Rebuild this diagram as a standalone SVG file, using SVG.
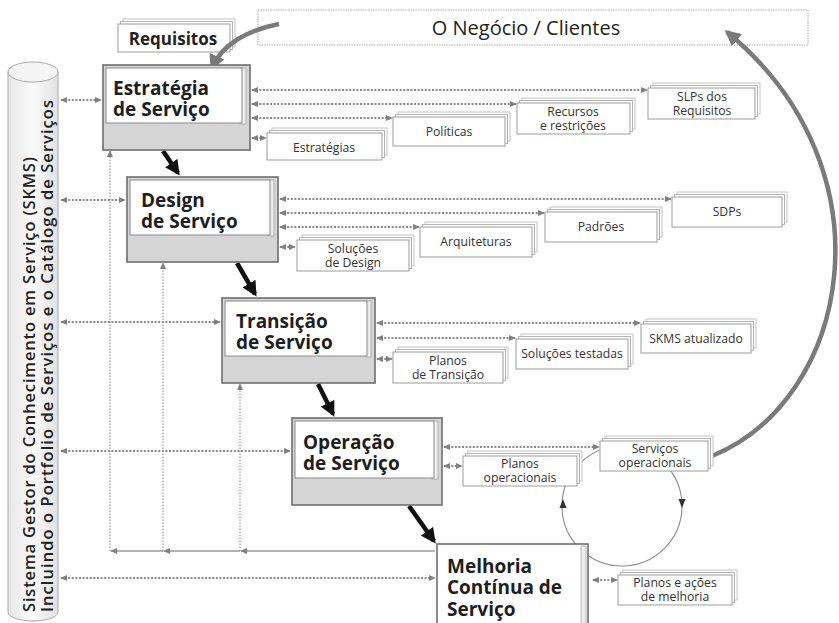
<svg xmlns="http://www.w3.org/2000/svg" width="839" height="623" viewBox="0 0 839 623">
<defs>
<style>
.dot{stroke:#8a8a8a;stroke-width:2;stroke-dasharray:2 1.6;fill:none}
.thin{stroke:#9a9a9a;stroke-width:1.2;stroke-dasharray:1.5 1.5;fill:none}
.hline{stroke:#999;stroke-width:1.6;fill:none}
.blk{stroke:#111;stroke-width:4.5;fill:none}
.gry{stroke:#7a7a7a;stroke-width:4.5;fill:none}
.b2{fill:#fff;stroke:#c4c4c4;stroke-width:1}
.b1{fill:#fff;stroke:#b4b4b4;stroke-width:1}
.f{fill:#fff;stroke:#9c9c9c;stroke-width:1}
.lbl{font-family:"Open Sans","Noto Sans",sans-serif;font-size:12.2px;fill:#333;text-anchor:middle}
.ttl{font-family:"Open Sans","Noto Sans",sans-serif;font-weight:700;font-size:19px;fill:#1e1e1e}
.outer{fill:#d5d5d5;stroke:#6e6e6e;stroke-width:1.6}
.inner{fill:#fff;stroke:#8c8c8c;stroke-width:1}
.strip{fill:#ececec;stroke:#a8a8a8;stroke-width:0.8}
.cyt{font-family:"Open Sans","Noto Sans",sans-serif;font-size:16.5px;font-weight:600;fill:#222}
</style>
<marker id="ah" viewBox="0 0 8 8" refX="7" refY="4" markerWidth="7" markerHeight="7" markerUnits="userSpaceOnUse" orient="auto-start-reverse"><path d="M0,0.5 L8,4 L0,7.5 z" fill="#808080"/></marker>
<marker id="bk" viewBox="0 0 10 10" refX="8" refY="5" markerWidth="15" markerHeight="15" markerUnits="userSpaceOnUse" orient="auto"><path d="M0,0 L10,5 L0,10 z" fill="#111"/></marker>
<marker id="gh" viewBox="0 0 10 10" refX="8" refY="5" markerWidth="16" markerHeight="16" markerUnits="userSpaceOnUse" orient="auto"><path d="M0,0 L10,5 L0,10 z" fill="#7a7a7a"/></marker>
<linearGradient id="cyl" x1="0" x2="1" y1="0" y2="0"><stop offset="0" stop-color="#e6e6e6"/><stop offset="0.5" stop-color="#fafafa"/><stop offset="1" stop-color="#e2e2e2"/></linearGradient>
</defs>
<rect width="839" height="623" fill="#fff"/>

<!-- cylinder -->
<g id="skms">
<path d="M8,72 L8,612 A25,9 0 0 0 58,612 L58,72 Z" fill="url(#cyl)" stroke="#aaa" stroke-width="1"/>
<ellipse cx="33" cy="72" rx="25" ry="10" fill="#f4f4f4" stroke="#aaa" stroke-width="1"/>
<text class="cyt" transform="translate(35,612) rotate(-90)" textLength="455" lengthAdjust="spacing">Sistema Gestor do Conhecimento em Serviço (SKMS)</text>
<text class="cyt" transform="translate(53,612) rotate(-90)" textLength="512" lengthAdjust="spacing">Incluindo o Portfolio de Serviços e o Catálogo de Serviços</text>
</g>

<!-- business -->
<g id="negocio">
<rect x="258" y="10" width="550" height="35" fill="#fff" stroke="#aaa" stroke-width="1" stroke-dasharray="1.5 1"/>
<text x="526" y="35" font-family="'Open Sans','Noto Sans',sans-serif" font-size="20" fill="#222" text-anchor="middle">O Negócio / Clientes</text>
</g>

<g id="requisitos">
<rect class="b2" x="123" y="19" width="112" height="28"/>
<rect class="b1" x="120.5" y="21.5" width="112" height="28"/>
<rect class="f" x="118" y="24" width="112" height="28"/>
<text x="173" y="45" font-family="'Open Sans','Noto Sans',sans-serif" font-size="17" font-weight="700" fill="#222" text-anchor="middle">Requisitos</text>
</g>

<!-- circle loop (behind boxes) -->
<g id="loop">
<circle cx="622" cy="506" r="60" fill="none" stroke="#8a8a8a" stroke-width="1.1"/>
<path d="M559.5,508 L563,499 L566.5,508 z" fill="#333"/>
<path d="M678.5,499 L682,508 L685.5,499 z" fill="#333"/>
</g>

<!-- connectors -->
<g id="connectors">
<path class="gry" d="M279,24 C248,30 222,44 212,68" marker-end="url(#gh)"/>
<path class="gry" d="M712,456 C850,400 895,170 727,32" marker-end="url(#gh)"/>
<line class="blk" x1="163" y1="151" x2="178" y2="173" marker-end="url(#bk)"/>
<line class="blk" x1="237" y1="263" x2="255" y2="294" marker-end="url(#bk)"/>
<line class="blk" x1="318" y1="384" x2="333" y2="414" marker-end="url(#bk)"/>
<line class="blk" x1="409" y1="506" x2="434" y2="541" marker-end="url(#bk)"/>
<!-- left to SKMS -->
<line class="dot" x1="61" y1="100" x2="101" y2="100" marker-start="url(#ah)" marker-end="url(#ah)"/>
<line class="dot" x1="61" y1="200" x2="125" y2="200" marker-start="url(#ah)" marker-end="url(#ah)"/>
<line class="dot" x1="61" y1="322" x2="220" y2="322" marker-start="url(#ah)" marker-end="url(#ah)"/>
<line class="dot" x1="61" y1="451" x2="290" y2="451" marker-start="url(#ah)" marker-end="url(#ah)"/>
<line class="dot" x1="61" y1="578" x2="435" y2="578" marker-start="url(#ah)" marker-end="url(#ah)"/>
<!-- feedback from CSI -->
<line class="hline" x1="435" y1="551" x2="241" y2="551" marker-end="url(#ah)"/>
<line class="hline" x1="240" y1="551" x2="164" y2="551" marker-end="url(#ah)"/>
<line class="hline" x1="163" y1="551" x2="111" y2="551" marker-end="url(#ah)"/>
<line class="thin" x1="110" y1="551" x2="110" y2="151" marker-end="url(#ah)"/>
<line class="thin" x1="163" y1="551" x2="163" y2="263" marker-end="url(#ah)"/>
<line class="thin" x1="240" y1="551" x2="240" y2="384" marker-end="url(#ah)"/>
<!-- strategy outputs -->
<line class="dot" x1="252" y1="90" x2="647" y2="90" marker-start="url(#ah)" marker-end="url(#ah)"/>
<line class="dot" x1="252" y1="104" x2="516" y2="104" marker-start="url(#ah)" marker-end="url(#ah)"/>
<line class="dot" x1="252" y1="118" x2="392" y2="118" marker-start="url(#ah)" marker-end="url(#ah)"/>
<line class="dot" x1="252" y1="138" x2="266" y2="138" marker-start="url(#ah)" marker-end="url(#ah)"/>
<!-- design outputs -->
<line class="dot" x1="280" y1="199" x2="671" y2="199" marker-start="url(#ah)" marker-end="url(#ah)"/>
<line class="dot" x1="280" y1="213" x2="544" y2="213" marker-start="url(#ah)" marker-end="url(#ah)"/>
<line class="dot" x1="280" y1="227" x2="419" y2="227" marker-start="url(#ah)" marker-end="url(#ah)"/>
<line class="dot" x1="280" y1="247" x2="295" y2="247" marker-start="url(#ah)" marker-end="url(#ah)"/>
<!-- transition outputs -->
<line class="dot" x1="377" y1="323" x2="640" y2="323" marker-start="url(#ah)" marker-end="url(#ah)"/>
<line class="dot" x1="377" y1="338" x2="515" y2="338" marker-start="url(#ah)" marker-end="url(#ah)"/>
<line class="dot" x1="377" y1="359" x2="392" y2="359" marker-start="url(#ah)" marker-end="url(#ah)"/>
<!-- operation outputs -->
<line class="dot" x1="444" y1="447" x2="599" y2="447" marker-start="url(#ah)" marker-end="url(#ah)"/>
<line class="dot" x1="444" y1="466" x2="462" y2="466" marker-start="url(#ah)" marker-end="url(#ah)"/>
<!-- CSI output -->
<line class="dot" x1="593" y1="580" x2="617" y2="580" marker-start="url(#ah)" marker-end="url(#ah)"/>
</g>

<!-- lifecycle stages -->
<g id="estrategia">
<rect class="outer" x="103" y="65" width="147" height="85"/>
<rect class="strip" x="240" y="68" width="6" height="56"/>
<rect class="inner" x="106" y="68" width="136" height="55"/>
<text class="ttl" x="113" y="95">Estratégia</text>
<text class="ttl" x="113" y="116">de Serviço</text>
</g>
<g id="design">
<rect class="outer" x="127" y="177" width="151" height="85"/>
<rect class="strip" x="268" y="180" width="6" height="56"/>
<rect class="inner" x="130" y="180" width="140" height="55"/>
<text class="ttl" x="141" y="207">Design</text>
<text class="ttl" x="141" y="228">de Serviço</text>
</g>
<g id="transicao">
<rect class="outer" x="222" y="298" width="153" height="85"/>
<rect class="strip" x="365" y="301" width="6" height="56"/>
<rect class="inner" x="225" y="301" width="142" height="55"/>
<text class="ttl" x="236" y="328">Transição</text>
<text class="ttl" x="236" y="349">de Serviço</text>
</g>
<g id="operacao">
<rect class="outer" x="292" y="418" width="150" height="87"/>
<rect class="strip" x="432" y="421" width="6" height="58"/>
<rect class="inner" x="295" y="421" width="139" height="57"/>
<text class="ttl" x="303" y="449">Operação</text>
<text class="ttl" x="303" y="470">de Serviço</text>
</g>
<g id="melhoria">
<rect x="437" y="544" width="151" height="83" fill="#fff" stroke="#6e6e6e" stroke-width="1.6"/>
<rect class="strip" x="581" y="546" width="5" height="80"/>
<text class="ttl" x="447" y="573">Melhoria</text>
<text class="ttl" x="447" y="594">Contínua de</text>
<text class="ttl" x="447" y="616">Serviço</text>
</g>

<!-- strategy documents -->
<g id="doc-estrategias">
<rect class="b2" x="272" y="128" width="115" height="27"/><rect class="b1" x="269.5" y="130.5" width="115" height="27"/><rect class="f" x="267" y="133" width="115" height="27"/>
<text class="lbl" x="324" y="152">Estratégias</text>
</g>
<g id="doc-politicas">
<rect class="b2" x="398" y="112" width="112" height="29"/><rect class="b1" x="395.5" y="114.5" width="112" height="29"/><rect class="f" x="393" y="117" width="112" height="29"/>
<text class="lbl" x="449" y="136">Políticas</text>
</g>
<g id="doc-recursos">
<rect class="b2" x="522" y="98" width="113" height="31"/><rect class="b1" x="519.5" y="100.5" width="113" height="31"/><rect class="f" x="517" y="103" width="113" height="31"/>
<text class="lbl" x="573" y="115.5">Recursos</text>
<text class="lbl" x="573" y="129.5">e restrições</text>
</g>
<g id="doc-slps">
<rect class="b2" x="653" y="83" width="107" height="31"/><rect class="b1" x="650.5" y="85.5" width="107" height="31"/><rect class="f" x="648" y="88" width="107" height="31"/>
<text class="lbl" x="702" y="100.5">SLPs dos</text>
<text class="lbl" x="702" y="114.5">Requisitos</text>
</g>

<!-- design documents -->
<g id="doc-solucoes-design">
<rect class="b2" x="302" y="235" width="112" height="31"/><rect class="b1" x="299.5" y="237.5" width="112" height="31"/><rect class="f" x="297" y="240" width="112" height="31"/>
<text class="lbl" x="353" y="252.5">Soluções</text>
<text class="lbl" x="353" y="266.5">de Design</text>
</g>
<g id="doc-arquiteturas">
<rect class="b2" x="425" y="222" width="112" height="30"/><rect class="b1" x="422.5" y="224.5" width="112" height="30"/><rect class="f" x="420" y="227" width="112" height="30"/>
<text class="lbl" x="476" y="246">Arquiteturas</text>
</g>
<g id="doc-padroes">
<rect class="b2" x="550" y="207" width="112" height="30"/><rect class="b1" x="547.5" y="209.5" width="112" height="30"/><rect class="f" x="545" y="212" width="112" height="30"/>
<text class="lbl" x="601" y="231">Padrões</text>
</g>
<g id="doc-sdps">
<rect class="b2" x="677" y="192" width="110" height="30"/><rect class="b1" x="674.5" y="194.5" width="110" height="30"/><rect class="f" x="672" y="197" width="110" height="30"/>
<text class="lbl" x="727" y="216">SDPs</text>
</g>

<!-- transition documents -->
<g id="doc-planos-transicao">
<rect class="b2" x="398" y="347" width="110" height="31"/><rect class="b1" x="395.5" y="349.5" width="110" height="31"/><rect class="f" x="393" y="352" width="110" height="31"/>
<text class="lbl" x="448" y="364.5">Planos</text>
<text class="lbl" x="448" y="378.5">de Transição</text>
</g>
<g id="doc-solucoes-testadas">
<rect class="b2" x="521" y="334" width="112" height="30"/><rect class="b1" x="518.5" y="336.5" width="112" height="30"/><rect class="f" x="516" y="339" width="112" height="30"/>
<text class="lbl" x="572" y="358">Soluções testadas</text>
</g>
<g id="doc-skms">
<rect class="b2" x="646" y="319" width="110" height="29"/><rect class="b1" x="643.5" y="321.5" width="110" height="29"/><rect class="f" x="641" y="324" width="110" height="29"/>
<text class="lbl" x="696" y="343">SKMS atualizado</text>
</g>

<!-- operation documents -->
<g id="doc-planos-operacionais">
<rect class="b2" x="468" y="451" width="114" height="30"/><rect class="b1" x="465.5" y="453.5" width="114" height="30"/><rect class="f" x="463" y="456" width="114" height="30"/>
<text class="lbl" x="520" y="467.5">Planos</text>
<text class="lbl" x="520" y="481.5">operacionais</text>
</g>
<g id="doc-servicos-operacionais">
<rect class="b2" x="605" y="436" width="108" height="30"/><rect class="b1" x="602.5" y="438.5" width="108" height="30"/><rect class="f" x="600" y="441" width="108" height="30"/>
<text class="lbl" x="655" y="452.5">Serviços</text>
<text class="lbl" x="655" y="466.5">operacionais</text>
</g>

<!-- CSI document -->
<g id="doc-planos-melhoria">
<rect class="b2" x="623" y="570" width="114" height="30"/><rect class="b1" x="620.5" y="572.5" width="114" height="30"/><rect class="f" x="618" y="575" width="114" height="30"/>
<text class="lbl" x="675" y="586.5">Planos e ações</text>
<text class="lbl" x="675" y="600.5">de melhoria</text>
</g>
</svg>
